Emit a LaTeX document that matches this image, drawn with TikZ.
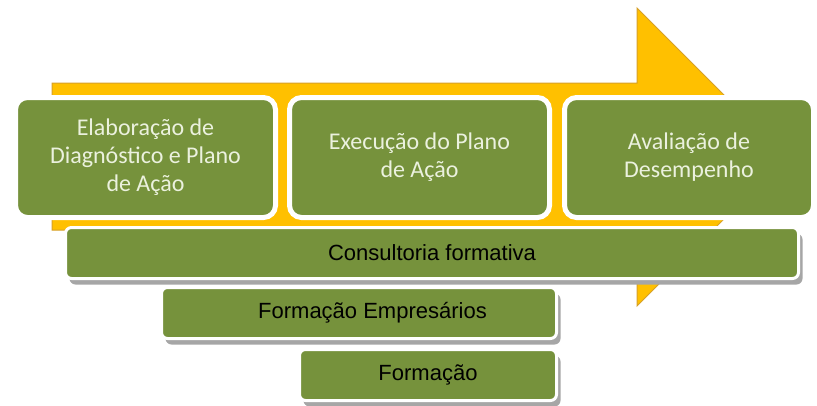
\documentclass[tikz,border=0pt]{standalone}
\usepackage{fontspec}
\setmainfont{Carlito}
\newfontfamily\barfont{Liberation Sans}
\usetikzlibrary{shadows}
\definecolor{stagegreen}{RGB}{118,146,60}
\definecolor{arrowgold}{RGB}{255,192,0}
\definecolor{arrowedge}{RGB}{214,160,40}
\definecolor{stagetext}{RGB}{235,241,222}

\begin{document}
\begin{tikzpicture}[x=1pt,y=-1pt,
  stage/.style={
    draw=white, line width=5pt, fill=stagegreen,
    rounded corners=12pt, inner sep=0pt, align=center,
    minimum height=120pt, text=stagetext,
    font=\fontsize{24}{28}\selectfont,
    drop shadow={shadow xshift=1pt, shadow yshift=-1pt, opacity=.35, fill=gray},
  },
  bar/.style={
    draw=white, line width=3pt, fill=stagegreen,
    rounded corners=6pt, inner sep=0pt,
    minimum height=51pt, text=black,
    font=\barfont\fontsize{22}{26}\selectfont,
    drop shadow={shadow xshift=4pt, shadow yshift=-6pt, opacity=1, fill=gray!70},
  }]
  \useasboundingbox (0,0) rectangle (817,405);
  % big arrow behind
  \draw[fill=arrowgold, draw=arrowedge, line width=1pt]
    (52,83) -- (637,83) -- (637,8) -- (786,157) -- (637,306) -- (637,230) -- (52,230) -- cycle;
  % stages
  \node[stage, minimum width=260pt] (diag) at (145.5,157.5) {Elaboração de\\Diagnóstico e Plano\\de Ação};
  \node[stage, minimum width=260pt] (exec) at (419.5,157.5) {Execução do Plano\\de Ação};
  \node[stage, minimum width=249pt] (aval) at (689,157.5) {Avaliação de\\Desempenho};
  % support bars
  \node[bar, minimum width=733pt] (consult) at (432,253) {Consultoria formativa};
  \node[bar, minimum width=395pt] (formemp) at (359,313) {\hspace*{27pt}Formação Empresários};
  \node[bar, minimum width=257pt] (form) at (428,375) {Formação};
\end{tikzpicture}
\end{document}
